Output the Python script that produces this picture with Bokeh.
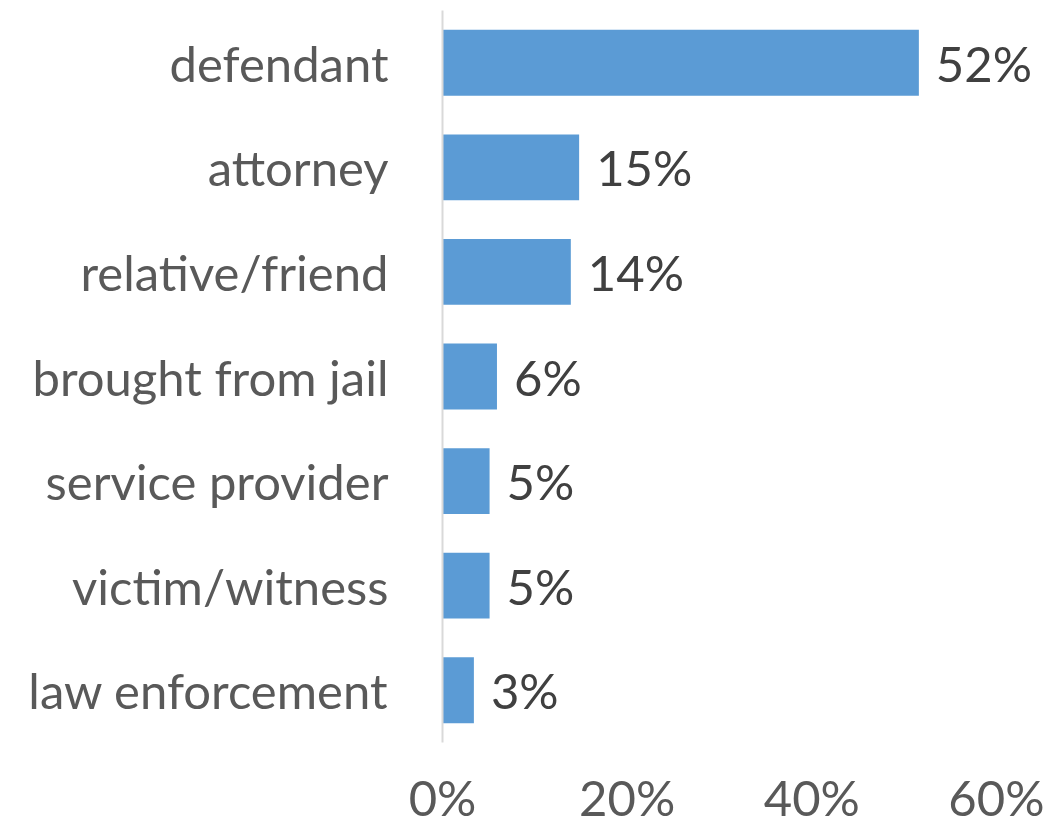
from bokeh.plotting import figure
from bokeh.models import ColumnDataSource, FactorRange, Range1d, FixedTicker, NumeralTickFormatter
from bokeh.core.properties import value
from bokeh.embed import file_html
from bokeh.resources import INLINE

categories = ["defendant", "attorney", "relative/friend", "brought from jail",
              "service provider", "victim/witness", "law enforcement"]
shares = [0.516, 0.148, 0.139, 0.059, 0.051, 0.051, 0.034]
x_ticks = [0.0, 0.2, 0.4, 0.6]

labels = [f"{round(v * 100)}%" for v in shares]
src = ColumnDataSource(dict(cat=categories, val=shares, lab=labels))

FONT = "Lato"
p = figure(width=1056, height=828, output_backend="svg", toolbar_location=None,
           y_range=FactorRange(*reversed(categories)), x_range=Range1d(0, 0.664),
           min_border_left=442, min_border_right=1, min_border_top=10, min_border_bottom=83)

p.hbar(y="cat", right="val", left=0, height=0.63, source=src, color="#5B9BD5", line_color=None)
p.text(x="val", y="cat", text="lab", source=src, x_offset=17, text_baseline="middle",
       text_align="left", text_font=value(FONT), text_font_size="49px", text_color="#404040")

p.outline_line_color = None
p.xgrid.grid_line_color = None
p.ygrid.grid_line_color = None

p.yaxis.axis_line_color = "#D9D9D9"
p.yaxis.axis_line_width = 2
p.yaxis.major_tick_line_color = None
p.yaxis.minor_tick_line_color = None
p.yaxis.major_label_text_font = FONT
p.yaxis.major_label_text_font_size = "49px"
p.yaxis.major_label_text_color = "#595959"
p.yaxis.major_label_standoff = 48

p.xaxis.axis_line_color = None
p.xaxis.major_tick_line_color = None
p.xaxis.minor_tick_line_color = None
p.xaxis.ticker = FixedTicker(ticks=x_ticks)
p.xaxis.formatter = NumeralTickFormatter(format="0%")
p.xaxis.major_label_text_font = FONT
p.xaxis.major_label_text_font_size = "49px"
p.xaxis.major_label_text_color = "#595959"
p.xaxis.major_label_standoff = 19

open("out.html", "w").write(file_html(p, INLINE))
